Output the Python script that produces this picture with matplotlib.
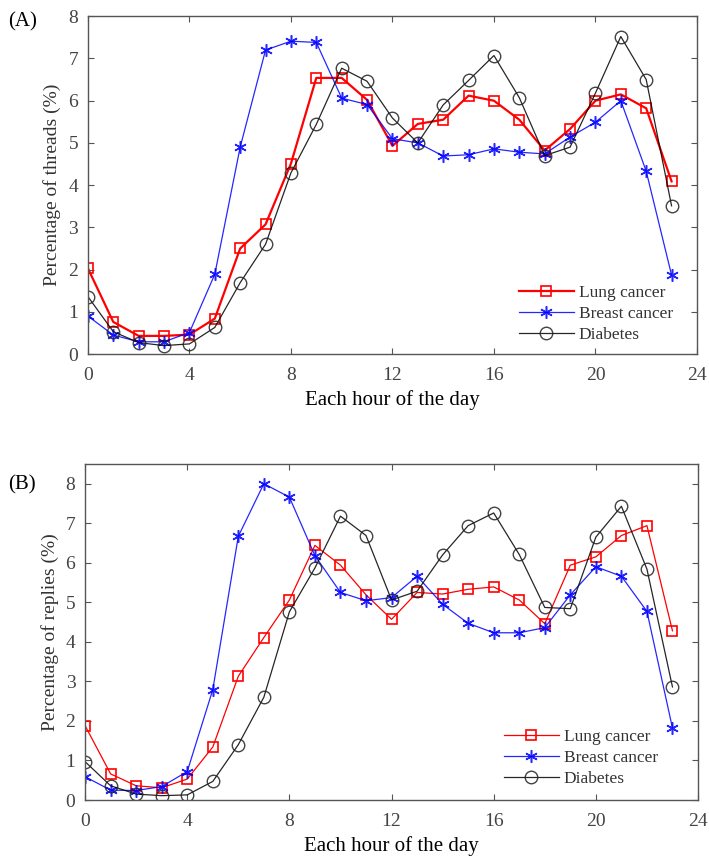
import matplotlib
matplotlib.use("Agg")
import matplotlib.pyplot as plt

hours = list(range(24))

# (A) percentage of threads
lung_threads = [2.03, 0.76, 0.43, 0.43, 0.46, 0.84, 2.50, 3.07, 4.51, 6.54, 6.54, 6.02,
                4.93, 5.45, 5.55, 6.12, 6.00, 5.55, 4.82, 5.33, 6.00, 6.15, 5.82, 4.09]
breast_threads = [0.90, 0.45, 0.29, 0.29, 0.51, 1.89, 4.90, 7.20, 7.41, 7.38, 6.06, 5.91,
                  5.10, 5.00, 4.69, 4.72, 4.86, 4.78, 4.74, 5.14, 5.49, 6.00, 4.33, 1.87]
diabetes_threads = [1.36, 0.53, 0.27, 0.20, 0.24, 0.63, 1.69, 2.60, 4.29, 5.44, 6.77, 6.46,
                    5.59, 5.00, 5.90, 6.48, 7.07, 6.07, 4.70, 4.90, 6.18, 7.52, 6.50, 3.51]

# (B) percentage of replies
lung_replies = [1.88, 0.66, 0.36, 0.31, 0.53, 1.34, 3.13, 4.11, 5.06, 6.44, 5.94, 5.19,
                4.57, 5.25, 5.21, 5.33, 5.39, 5.06, 4.46, 5.94, 6.15, 6.69, 6.94, 4.28]
breast_replies = [0.59, 0.25, 0.24, 0.34, 0.72, 2.79, 6.67, 8.00, 7.66, 6.18, 5.25, 5.04,
                  5.12, 5.66, 4.95, 4.47, 4.23, 4.23, 4.36, 5.19, 5.90, 5.66, 4.77, 1.82]
diabetes_replies = [0.97, 0.36, 0.15, 0.11, 0.13, 0.47, 1.40, 2.60, 4.76, 5.87, 7.18, 6.69,
                    5.06, 5.28, 6.20, 6.94, 7.26, 6.21, 4.87, 4.84, 6.65, 7.43, 5.84, 2.86]

plt.rcParams["font.family"] = ["Liberation Serif", "DejaVu Serif"]

fig = plt.figure(figsize=(7.09, 8.56), dpi=100)
ax_a = fig.add_axes([0.124, 0.5864, 0.859, 0.3946])
ax_b = fig.add_axes([0.120, 0.0654, 0.8645, 0.3926])


def draw_panel(ax, lung, breast, diabetes, ylabel, ymax, lung_lw, legend_anchor):
    ax.plot(hours, lung, color="red", lw=lung_lw, marker="s", ms=6.5,
            mfc="none", mec="red", mew=1.2, label="Lung cancer")
    # MATLAB-like asterisk marker
    ax.plot(hours, breast, color="blue", lw=0.9, marker=(6, 2, 0), ms=9,
            mec="blue", mew=1.1, label="Breast cancer", alpha=0.85)
    ax.plot(hours, diabetes, color="black", lw=0.9, marker="o", ms=9,
            mfc="none", mec="#222222", mew=1.0, label="Diabetes", alpha=0.85)
    ax.set_xlim(0, 24)
    ax.set_ylim(0, ymax)
    ax.set_xticks([0, 4, 8, 12, 16, 20, 24])
    ax.set_yticks(range(9))
    ax.tick_params(axis="both", direction="in", top=True, right=True, labelsize=14,
                   labelcolor="#444444", color="#555555", length=4)
    ax.tick_params(axis="x", pad=9)
    ax.tick_params(axis="y", pad=7)
    for sp in ax.spines.values():
        sp.set_color("#555555")
        sp.set_linewidth(1.0)
    ax.set_xlabel("Each hour of the day", fontsize=15, labelpad=5)
    ax.set_ylabel(ylabel, fontsize=14, color="#333333", labelpad=5)
    ax.legend(loc="lower right", bbox_to_anchor=legend_anchor, frameon=False,
              fontsize=12.5, handlelength=3.15, handletextpad=0.3,
              labelspacing=0.27, borderaxespad=0.0, labelcolor="#333333")


draw_panel(ax_a, lung_threads, breast_threads, diabetes_threads,
           "Percentage of threads (%)", 8, 1.6, (0.972, 0.012))
draw_panel(ax_b, lung_replies, breast_replies, diabetes_replies,
           "Percentage of replies (%)", 8.5, 0.9, (0.946, 0.018))

fig.text(0.012, 0.974, "(A)", fontsize=15, va="center", ha="left")
fig.text(0.012, 0.433, "(B)", fontsize=15, va="center", ha="left")

fig.savefig("out.png", dpi=100)
